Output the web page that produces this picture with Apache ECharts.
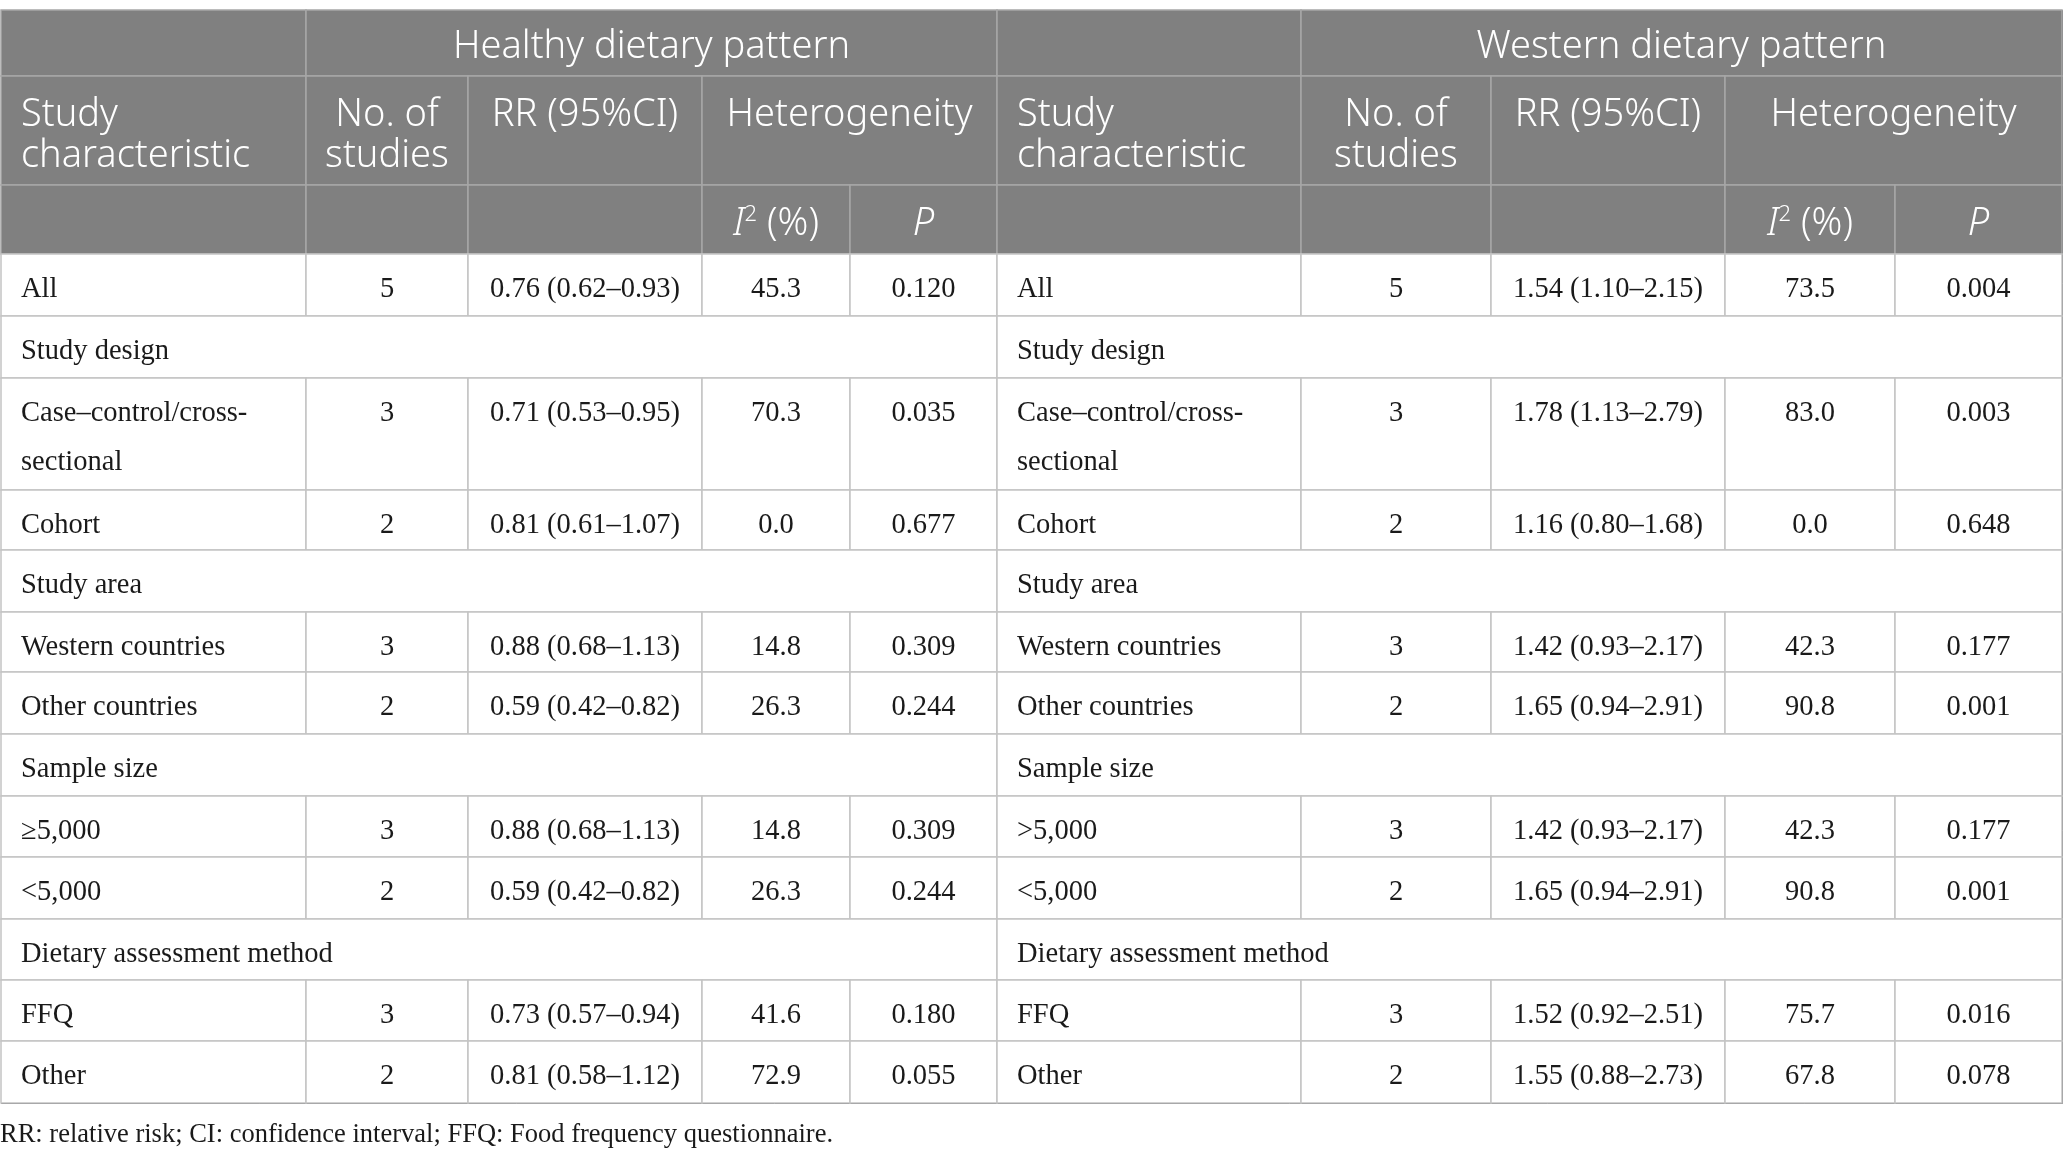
<!DOCTYPE html>
<html>
<head>
    <meta charset="utf-8"/>
    <title>Dietary pattern subgroup table</title>
    <script src="https://cdn.jsdelivr.net/npm/echarts@6.0.0/dist/echarts.min.js"></script>
    <style>
        html, body { margin: 0; padding: 0; background: #fff; }
        #main { width: 2064px; height: 1160px; }
    </style>
</head>
<body>
<div id="main"></div>
<script>
    // 表格数据
    var groups = ['Healthy dietary pattern', 'Western dietary pattern'];
    var headCols = ['Study\ncharacteristic', 'No. of\nstudies', 'RR (95%CI)', 'Heterogeneity'];
    var subHeads = ['{it|I}{sup|2}{n| (%)}', '{it|P}'];
    var sections = ['Study design', 'Study area', 'Sample size', 'Dietary assessment method'];
    // d = 数据行, s = 分组标题行
    var rowOrder = ['d', 's', 'd', 'd', 's', 'd', 'd', 's', 'd', 'd', 's', 'd', 'd'];

    var healthyLabels = ['All', 'Case–control/cross-\nsectional', 'Cohort', 'Western countries', 'Other countries', '≥5,000', '<5,000', 'FFQ', 'Other'];
    var healthyN = [5, 3, 2, 3, 2, 3, 2, 3, 2];
    var healthyRR = ['0.76 (0.62–0.93)', '0.71 (0.53–0.95)', '0.81 (0.61–1.07)', '0.88 (0.68–1.13)', '0.59 (0.42–0.82)', '0.88 (0.68–1.13)', '0.59 (0.42–0.82)', '0.73 (0.57–0.94)', '0.81 (0.58–1.12)'];
    var healthyI2 = ['45.3', '70.3', '0.0', '14.8', '26.3', '14.8', '26.3', '41.6', '72.9'];
    var healthyP = ['0.120', '0.035', '0.677', '0.309', '0.244', '0.309', '0.244', '0.180', '0.055'];

    var westernLabels = ['All', 'Case–control/cross-\nsectional', 'Cohort', 'Western countries', 'Other countries', '>5,000', '<5,000', 'FFQ', 'Other'];
    var westernN = [5, 3, 2, 3, 2, 3, 2, 3, 2];
    var westernRR = ['1.54 (1.10–2.15)', '1.78 (1.13–2.79)', '1.16 (0.80–1.68)', '1.42 (0.93–2.17)', '1.65 (0.94–2.91)', '1.42 (0.93–2.17)', '1.65 (0.94–2.91)', '1.52 (0.92–2.51)', '1.55 (0.88–2.73)'];
    var westernI2 = ['73.5', '83.0', '0.0', '42.3', '90.8', '42.3', '90.8', '75.7', '67.8'];
    var westernP = ['0.004', '0.003', '0.648', '0.177', '0.001', '0.177', '0.001', '0.016', '0.078'];

    var footnote = 'RR: relative risk; CI: confidence interval; FFQ: Food frequency questionnaire.';

    // 布局
    var colSize = [305, 162, 234, 148, 147, 304, 190, 234, 170, 167];
    var headRowSize = [66, 109, 69];
    var bodyRowSize = [62, 62, 112, 60, 62, 60, 62, 62, 61, 62, 61, 61, 62];

    var headBg = '#808080', headLine = '#a6a6a6', bodyLine = '#c4c4c4';
    var headFont = 'Noto Sans', bodyFont = 'Liberation Serif';
    var padL = 17, firstLine = 34;
    var hfs = 38;

    var headBase = {color: '#fff', fontFamily: headFont, fontSize: hfs, fontWeight: 300, lineHeight: 41, overflow: 'none'};
    var headStyle = {color: headBg, borderColor: headLine, borderWidth: 1.5};
    var bodyStyle = {color: '#fff', borderColor: bodyLine, borderWidth: 1.5};
    var bodyBase = {color: '#1a1a1a', fontFamily: bodyFont, fontSize: 28.5, overflow: 'none'};

    function hl(extra) {
        return Object.assign({}, headBase, extra || {});
    }
    // 数据单元格：首行文字中心距格顶 firstLine
    function bl(text, left) {
        var multi = String(text).indexOf('\n') >= 0;
        var lh = multi ? 49 : 40;
        return Object.assign({}, bodyBase, {
            lineHeight: lh,
            position: [left ? padL : '50%', firstLine - lh / 2],
            align: left ? 'left' : 'center',
            verticalAlign: 'top'
        });
    }

    var xData = colSize.map(function (s, i) {
        return {value: 'c' + i, size: s};
    });
    var yData = headRowSize.map(function (s, i) {
        return {value: 'h' + i, size: s};
    }).concat(bodyRowSize.map(function (s, i) {
        return {value: 'r' + i, size: s};
    }));

    var groupHead = {position: ['50%', 15], align: 'center', verticalAlign: 'top'};
    var topLeftHead = {position: [padL, 16.5], align: 'left', verticalAlign: 'top'};
    var topHead = {position: 'insideTop', distance: 16.5};
    var subHead = {position: ['50%', 17], align: 'center', verticalAlign: 'top', rich: {
        it: {fontStyle: 'italic', fontFamily: headFont, fontSize: hfs, fontWeight: 300, color: '#fff', lineHeight: 41},
        n: {fontFamily: headFont, fontSize: hfs, fontWeight: 300, color: '#fff', lineHeight: 41},
        sup: {fontFamily: headFont, fontSize: 22, fontWeight: 300, color: '#fff', lineHeight: 41, verticalAlign: 'top'}
    }};

    var cells = [];
    // 表头
    [0, 1].forEach(function (g) {
        var o = g * 5;
        cells.push({coord: [o, 0], value: '', itemStyle: headStyle});
        cells.push({coord: [[o + 1, o + 4], [0, 0]], mergeCells: true, value: groups[g], itemStyle: headStyle, label: hl(groupHead)});
        cells.push({coord: [o, 1], value: headCols[0], itemStyle: headStyle, label: hl(topLeftHead)});
        cells.push({coord: [o + 1, 1], value: headCols[1], itemStyle: headStyle, label: hl(topHead)});
        cells.push({coord: [o + 2, 1], value: headCols[2], itemStyle: headStyle, label: hl(topHead)});
        cells.push({coord: [[o + 3, o + 4], [1, 1]], mergeCells: true, value: headCols[3], itemStyle: headStyle, label: hl(topHead)});
        cells.push({coord: [o, 2], value: '', itemStyle: headStyle});
        cells.push({coord: [o + 1, 2], value: '', itemStyle: headStyle});
        cells.push({coord: [o + 2, 2], value: '', itemStyle: headStyle});
        cells.push({coord: [o + 3, 2], value: subHeads[0], itemStyle: headStyle, label: hl(subHead)});
        cells.push({coord: [o + 4, 2], value: subHeads[1], itemStyle: headStyle, label: hl(subHead)});
    });

    // 数据行
    var sides = [
        [healthyLabels, healthyN, healthyRR, healthyI2, healthyP],
        [westernLabels, westernN, westernRR, westernI2, westernP]
    ];
    var k = 0, sIdx = 0;
    rowOrder.forEach(function (t, i) {
        var y = i + 3;
        [0, 1].forEach(function (g) {
            var o = g * 5;
            if (t === 's') {
                cells.push({coord: [[o, o + 4], [y, y]], mergeCells: true, value: sections[sIdx], itemStyle: bodyStyle,
                    label: bl(sections[sIdx], true)});
            } else {
                sides[g].forEach(function (arr, c) {
                    var txt = String(arr[k]);
                    cells.push({coord: [o + c, y], value: txt, itemStyle: bodyStyle, label: bl(txt, c === 0)});
                });
            }
        });
        if (t === 's') sIdx++; else k++;
    });

    var chart = echarts.init(document.getElementById('main'));
    chart.setOption({
        animation: false,
        title: {
            text: footnote, left: 0, top: 1122, padding: 0,
            textStyle: {fontFamily: bodyFont, fontSize: 26.5, fontWeight: 'normal', color: '#1a1a1a'}
        },
        matrix: {
            left: 1, top: 10, width: 2061, height: 1093,
            x: {show: false, data: xData},
            y: {show: false, data: yData},
            body: {data: cells, itemStyle: bodyStyle, label: bodyBase}
        }
    });
    window.onresize = function () {
        chart.resize();
    };
</script>
</body>
</html>
